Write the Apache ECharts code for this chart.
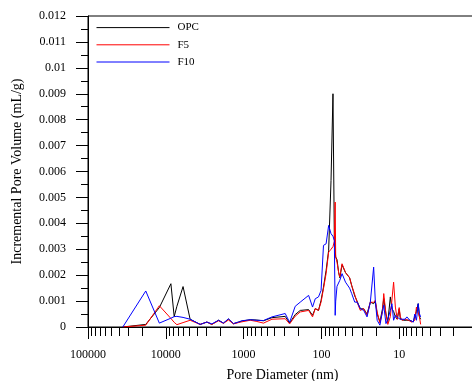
<!DOCTYPE html>
<html>
<head>
<meta charset="utf-8">
<script src="https://cdn.jsdelivr.net/npm/echarts@6/dist/echarts.min.js"></script>
<style>
  html, body { margin: 0; padding: 0; background: #fff; }
  #main { width: 472px; height: 381px; }
</style>
</head>
<body>
<div id="main"></div>
<script>
// pore diameters (nm), shared by the three samples
var diameters = [35700, 18100, 12100, 8600, 7800, 7200, 6000, 4870, 3620, 2965,
    2560, 2100, 1815, 1565, 1350, 1164, 1052, 822, 690, 555,
    432, 292, 256, 217, 187, 146, 130, 120, 109, 101,
    94, 87, 80.7, 75.2, 71, 68.2, 66.5, 65.5, 63, 60,
    58, 54.3, 49, 43.4, 40.8, 37.3, 34.8, 31.6, 28.6, 25.9,
    23.5, 22.2, 21.3, 20.3, 19.2, 17.7, 16.4, 15.8, 14.8, 14.0,
    13.0, 12.4, 11.8, 11.2, 10.6, 10.0, 9.66, 9.2, 8.8, 8.4,
    7.97, 7.6, 7.3, 6.9, 6.6, 6.3, 6.0, 5.7, 5.5, 5.3];

var opcValues = [0, 0.0001, 0.00075, 0.00167, 0.0004, 0.0008, 0.00156, 0.0003, 0.0001, 0.00019,
    0.0001, 0.00026, 0.00015, 0.0003, 0.00013, 0.00019, 0.00023, 0.00028, 0.00027, 0.00024,
    0.00036, 0.00041, 0.00015, 0.00048, 0.00064, 0.00067, 0.00045, 0.00071, 0.00064, 0.00103,
    0.00154, 0.00218, 0.00296, 0.00565, 0.009, 0.0034, 0.003, 0.0027, 0.0026, 0.0021,
    0.0019, 0.0024, 0.0021, 0.0019, 0.0016, 0.0012, 0.001, 0.0007, 0.0007, 0.0005,
    0.00096, 0.0009, 0.0009, 0.001, 0.0005, 0.0002, 0.0007, 0.0011, 0.0005, 0.0002,
    0.00116, 0.0007, 0.0006, 0.0004, 0.0003, 0.0007, 0.0003, 0.00026, 0.00026, 0.0003,
    0.00026, 0.00026, 0.00026, 0.00022, 0.0002, 0.00026, 0.0006, 0.0009, 0.0004, 0.0003];

var f5Values = [0, 0.00007, 0.00082, 0.00033, 0.00018, 0.00009, 0.00017, 0.00026, 0.0001, 0.00019,
    0.0001, 0.00024, 0.00014, 0.00027, 0.00012, 0.00017, 0.0002, 0.00026, 0.00022, 0.00015,
    0.0003, 0.00032, 0.00012, 0.00042, 0.00058, 0.00064, 0.00039, 0.00071, 0.00064, 0.00096,
    0.00148, 0.00206, 0.00289, 0.003, 0.0031, 0.0033, 0.00482, 0.0027, 0.0025, 0.0021,
    0.00193, 0.00244, 0.0021, 0.0019, 0.0016, 0.00125, 0.00096, 0.00064, 0.00071, 0.00045,
    0.00096, 0.0009, 0.00095, 0.00103, 0.00058, 0.00015, 0.0006, 0.00129, 0.0005, 0.0001,
    0.0004, 0.0004, 0.00173, 0.00077, 0.0003, 0.00075, 0.00039, 0.00026, 0.00026, 0.0003,
    0.00026, 0.00026, 0.00026, 0.00019, 0.00019, 0.00026, 0.00077, 0.00084, 0.0004, 0.0001];

var f10Values = [0, 0.00139, 0.00015, 0.00034, 0.0004, 0.00041, 0.00037, 0.0003, 0.0001, 0.00019,
    0.00012, 0.00026, 0.00015, 0.00032, 0.00013, 0.00019, 0.00024, 0.00028, 0.00026, 0.00025,
    0.00039, 0.00052, 0.00018, 0.0008, 0.00096, 0.00122, 0.00077, 0.00109, 0.00116, 0.00141,
    0.00315, 0.00321, 0.00392, 0.0036, 0.0035, 0.00334, 0.00045, 0.001, 0.00157, 0.00161,
    0.0018, 0.00206, 0.00173, 0.0015, 0.00129, 0.00096, 0.00096, 0.00071, 0.00064, 0.00039,
    0.00096, 0.0009, 0.00231, 0.00103, 0.00026, 0.00007, 0.0006, 0.00084, 0.00013, 0.0003,
    0.00064, 0.0009, 0.00026, 0.00045, 0.0004, 0.00032, 0.00039, 0.0003, 0.00026, 0.0003,
    0.00039, 0.00032, 0.00026, 0.00026, 0.00019, 0.0005, 0.00026, 0.0009, 0.00052, 0.00039];

var seriesNames = ['OPC', 'F5', 'F10'];
var seriesColors = ['#000000', '#ff0000', '#0000ff'];

var pairs = function (values) {
    return diameters.map(function (d, i) { return [d, values[i]]; });
};

var myChart = echarts.init(document.getElementById('main'));
var font = 'Liberation Serif';

var lineSeries = function (i, values) {
    return {
        name: seriesNames[i],
        type: 'line',
        symbol: 'none',
        color: seriesColors[i],
        lineStyle: { width: 1 },
        data: pairs(values)
    };
};

var option = {
    animation: false,
    backgroundColor: '#fff',
    grid: {
        left: 88, right: -5, top: 16, bottom: 54,
        show: true, borderColor: '#000', borderWidth: 1,
        outerBoundsMode: 'none'
    },
    legend: {
        orient: 'vertical',
        left: 96,
        top: 22,
        padding: 0,
        itemWidth: 73,
        itemHeight: 14,
        itemGap: 6,
        // keep only the line of the key, hide the marker
        itemStyle: { opacity: 0 },
        lineStyle: { width: 1 },
        textStyle: { fontFamily: font, fontSize: 11, color: '#000', padding: [0, 0, 0, 3] },
        data: seriesNames
    },
    xAxis: {
        type: 'log',
        logBase: 10,
        min: 1,
        max: 100000,
        inverse: true,
        name: 'Pore Diameter (nm)',
        nameLocation: 'middle',
        nameGap: 41,
        nameTextStyle: { fontFamily: font, fontSize: 14, color: '#000', verticalAlign: 'top' },
        axisLine: { lineStyle: { color: '#000', width: 1 } },
        axisTick: { show: true, length: 12, lineStyle: { color: '#000' } },
        minorTick: { show: true, splitNumber: 9, length: 9, lineStyle: { color: '#000' } },
        axisLabel: {
            fontFamily: font, fontSize: 12, color: '#000', margin: 22, showMinLabel: false,
            formatter: function (v) { return String(v); }
        },
        splitLine: { show: false }
    },
    yAxis: {
        type: 'value',
        min: 0,
        max: 0.012,
        interval: 0.001,
        name: 'Incremental Pore Volume (mL/g)',
        nameLocation: 'middle',
        nameGap: 64,
        nameTextStyle: { fontFamily: font, fontSize: 14, color: '#000' },
        axisLine: { show: true, lineStyle: { color: '#000', width: 1 } },
        axisTick: { show: true, length: 12, lineStyle: { color: '#000' } },
        minorTick: { show: true, splitNumber: 2, length: 7, lineStyle: { color: '#000' } },
        axisLabel: { fontFamily: font, fontSize: 12, color: '#000', margin: 22 },
        splitLine: { show: false }
    },
    series: [
        lineSeries(0, opcValues),
        lineSeries(1, f5Values),
        lineSeries(2, f10Values)
    ]
};

myChart.setOption(option);
</script>
</body>
</html>
